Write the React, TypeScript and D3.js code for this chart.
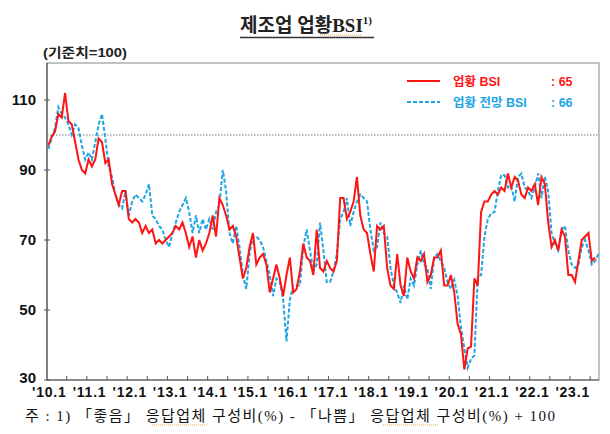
import React from "react";
import * as d3 from "d3";

// 업황 BSI (실적), 2010.1 ~ 2023.8
const bsiActual = [
  97, 99.5, 101, 106, 105, 112, 104, 103, 98, 93,
  90, 89, 93, 91, 93, 99, 98, 92, 93, 86,
  83, 80, 84, 84, 76, 75, 76, 75, 72, 74,
  72, 73, 69, 70, 69, 70, 71, 72, 74, 73,
  75, 72, 68, 71, 65, 70, 67, 69, 72, 77,
  71, 82, 80, 77, 73, 74, 71, 65, 59, 62,
  68, 72, 63, 65, 66, 63, 55, 59, 63, 59,
  54, 60, 65, 55, 56, 61, 69, 65, 64, 60,
  73, 62, 61, 64, 62, 61, 64, 82, 82, 76,
  78, 81, 88, 77, 73, 72, 66, 61, 74, 73,
  74, 62, 57, 56, 66, 57, 54, 65, 61, 59,
  65, 64, 66, 58, 60, 65, 65, 67, 57, 57,
  60, 55, 46, 43, 33, 39, 39.5, 59, 57, 78,
  81, 81, 83, 84, 83, 85, 84, 89, 85, 88,
  87, 83, 82, 85, 84, 86, 80, 88, 86, 75,
  68, 70, 67, 73, 71, 60, 60, 58, 64, 70,
  71, 72, 64, 65,
];

// 업황 전망 BSI, 2010.1 ~ 2023.9
const bsiOutlook = [
  96, 99, 102, 108, 106, 105, 103, 100, 103, 102,
  97, 93, 95, 93, 98, 103, 106, 99, 91, 88,
  83, 80, 79, 84, 77, 81, 83, 82, 81, 83,
  86, 77, 76, 74, 73, 70, 68, 72, 75, 78,
  80, 82, 78, 72, 77, 72, 76, 73, 76, 73,
  78, 80, 90, 84, 72, 69, 74, 68, 60, 56,
  66, 71, 71, 70, 68, 64, 60, 54, 59, 58,
  53, 41, 53, 57, 57, 57, 68, 73, 67, 61,
  63, 75, 67, 58, 58, 61, 66, 76, 78, 82,
  74, 78, 81, 83, 82, 81, 73, 67, 68, 75,
  72, 71, 62, 57, 55, 52, 57, 53, 59, 57,
  63, 67, 63, 62, 56, 65, 66, 64, 62, 58,
  56, 58.6, 54, 45, 39, 33.5, 36, 37, 59.5, 60,
  71, 76, 77.6, 78, 84, 88.6, 88.5, 85, 85.5, 81,
  88, 89, 85, 84, 82, 85, 89, 82, 88, 84,
  72, 69, 67, 73, 74, 67, 63, 62, 63, 68,
  70, 67, 63, 64, 66,
];

const yearLabels = ["'10.1", "'11.1", "'12.1", "'13.1", "'14.1", "'15.1", "'16.1", "'17.1", "'18.1", "'19.1", "'20.1", "'21.1", "'22.1", "'23.1"];
const yTicks = [30, 50, 70, 90, 110];

const W = 610;
const H = 434;
const plot = { left: 47, right: 599, top: 63, bottom: 380 };

const RED = "#ff1414";
const BLUE = "#1ea5e3";
const sans = "'Liberation Sans', 'Noto Sans CJK KR', sans-serif";
const serif = "'Liberation Serif', 'Noto Sans CJK KR', serif";

export default function App() {
  const x = d3.scaleLinear().domain([0, 164]).range([48.3, 48.3 + 3.355 * 164]);
  const y = d3.scaleLinear().domain([30, 120]).range([plot.bottom, 65]);

  const line = d3
    .line<number>()
    .x((_, i) => x(i))
    .y((d) => y(d));

  // minor ticks every 6 months, between the months
  const halfYears = d3.range(5.5, 164, 6);

  return (
    <div style={{ position: "absolute", left: 0, top: 0 }}>
      <svg width={W} height={H} style={{ display: "block", background: "#fff" }}>
        {/* title */}
        <text x={240} y={32} fontFamily={serif} fontWeight={700} fontSize={19} fill="#222">
          제조업 업황BSI
          <tspan fontSize={11} dy={-8}>1)</tspan>
        </text>
        <line x1={240} x2={374} y1={37.5} y2={37.5} stroke="#333" strokeWidth={1.3} />
        <line x1={320} x2={362} y1={35} y2={35} stroke="#f0a050" strokeWidth={1} strokeDasharray="1,1" />

        <text x={43} y={57} fontFamily={sans} fontWeight={700} fontSize={13} fill="#222" textLength={84} lengthAdjust="spacingAndGlyphs">
          (기준치=100)
        </text>

        {/* frame */}
        <rect
          x={plot.left}
          y={plot.top}
          width={plot.right - plot.left}
          height={plot.bottom - plot.top}
          fill="none"
          stroke="#9a9a9a"
          strokeWidth={1.2}
        />
        <line x1={plot.left} x2={plot.left} y1={plot.top} y2={plot.bottom} stroke="#555" strokeWidth={1.2} />
        <line x1={plot.left} x2={plot.right} y1={plot.bottom} y2={plot.bottom} stroke="#555" strokeWidth={1.2} />

        {/* y axis */}
        {yTicks.map((t) => (
          <g key={t}>
            <line x1={plot.left - 3} x2={plot.left + 3} y1={y(t)} y2={y(t)} stroke="#555" />
            <text
              x={36}
              y={t === 30 ? y(t) + 3 : y(t) + 5}
              textAnchor="end"
              fontFamily={sans}
              fontWeight={700}
              fontSize={15}
              fill="#111"
            >
              {t}
            </text>
          </g>
        ))}

        {/* x axis */}
        {halfYears.map((m) => (
          <line key={m} x1={x(m)} x2={x(m)} y1={plot.bottom} y2={plot.bottom - 4} stroke="#555" />
        ))}
        {yearLabels.map((lab, i) => (
          <text
            key={lab}
            x={x(i * 12) + 1}
            y={397}
            textAnchor="middle"
            fontFamily={sans}
            fontWeight={700}
            fontSize={14}
            letterSpacing={0.8}
            fill="#111"
          >
            {lab}
          </text>
        ))}

        {/* reference line 100 */}
        <line x1={plot.left} x2={plot.right} y1={y(100)} y2={y(100)} stroke="#777" strokeWidth={1} strokeDasharray="1.5,1.5" />

        {/* series */}
        <path d={line(bsiOutlook) ?? ""} fill="none" stroke={BLUE} strokeWidth={2} strokeDasharray="4,2" />
        <path d={line(bsiActual) ?? ""} fill="none" stroke={RED} strokeWidth={2} />

        {/* legend */}
        <line x1={407} x2={440} y1={81} y2={81} stroke={RED} strokeWidth={2.2} />
        <text x={453} y={85.5} fontFamily={sans} fontWeight={700} fontSize={12.5} fill={RED}>
          업황 BSI
        </text>
        <text x={551} y={85.5} fontFamily={sans} fontWeight={700} fontSize={12.5} fill={RED}>
          : 65
        </text>
        <line x1={407} x2={440} y1={102} y2={102} stroke={BLUE} strokeWidth={2.2} strokeDasharray="4,2" />
        <text x={453} y={106.5} fontFamily={sans} fontWeight={700} fontSize={12.5} fill={BLUE}>
          업황 전망 BSI
        </text>
        <text x={551} y={106.5} fontFamily={sans} fontWeight={700} fontSize={12.5} fill={BLUE}>
          : 66
        </text>

        {/* footnote */}
        <text x={25} y={421} fontFamily={serif} fontSize={15} fill="#111" textLength={530} lengthAdjust="spacing">
          주 : 1) 「좋음」 응답업체 구성비(%) - 「나쁨」 응답업체 구성비(%) + 100
        </text>
        <line x1={152} x2={207} y1={425} y2={425} stroke="#f0a050" strokeWidth={1} strokeDasharray="1,1" />
        <line x1={383} x2={438} y1={425} y2={425} stroke="#f0a050" strokeWidth={1} strokeDasharray="1,1" />
      </svg>
    </div>
  );
}
